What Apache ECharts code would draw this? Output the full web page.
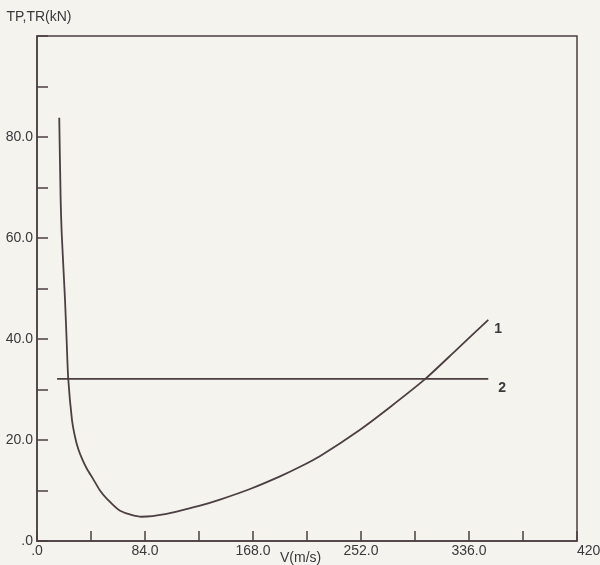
<!DOCTYPE html>
<html>
<head>
<meta charset="utf-8">
<script src="https://cdn.jsdelivr.net/npm/echarts@6/dist/echarts.min.js"></script>
<style>
html,body{margin:0;padding:0;background:#f5f3ed;}
#c{width:600px;height:565px;}
</style>
</head>
<body>
<div id="c"></div>
<script>
// Curve 1 (TR) – speed V (m/s) and force (kN)
var curve1V = [17.3, 18.4, 19.2, 21.8, 23.1, 24.3, 27.2, 29.6, 32.1, 35.5, 39, 43.6, 49, 54.2, 64.6, 81.4, 99.6, 126.8, 142.3, 165.7, 189, 204.6, 220, 251, 275, 302, 326, 351];
var curve1T = [83.8, 67.5, 61, 47.7, 39.4, 32.1, 24.0, 20.6, 18.2, 16.0, 14.2, 12.3, 10.0, 8.4, 6.0, 4.8, 5.3, 7.0, 8.2, 10.3, 12.8, 14.7, 16.8, 22.0, 26.6, 32.1, 37.8, 43.8];
// Curve 2 (TP) – constant available thrust
var curve2V = [15.6, 351];
var curve2T = [32.1, 32.1];
var seriesLabels = ['1', '2'];
var xTitle = 'V(m/s)';
var yTitle = 'TP,TR(kN)';

function pairs(xs, ys){ return xs.map(function(x,i){ return [x, ys[i]]; }); }

var ink = '#4b3f43';
var txt = '#38393b';
var font = "'Liberation Sans Narrow','Liberation Sans',Arial,sans-serif";

var chart = echarts.init(document.getElementById('c'), null, {renderer:'canvas'});
chart.setOption({
  backgroundColor: '#f5f3ed',
  animation: false,
  grid: {left: 37, right: 23, top: 36, bottom: 24, containLabel: false, outerBoundsMode: 'none',
         show: true, borderColor: ink, borderWidth: 1.5},
  graphic: [{
    type: 'text', left: 280, top: 551, z: 10,
    style: {text: xTitle, fill: txt, font: "14px " + font}
  }],
  xAxis: {
    type: 'value', min: 0, max: 420, interval: 42,
    axisLine: {show: true, lineStyle: {color: ink, width: 1.5}},
    axisTick: {show: true, inside: true, length: 10, lineStyle: {color: ink, width: 1.5}},
    splitLine: {show: false},
    axisLabel: {
      color: txt, fontFamily: font, fontSize: 14, margin: 3, alignMaxLabel: 'left', hideOverlap: false,
      formatter: function(v){ if (Math.round(v/42) % 2 !== 0) return ''; return v === 0 ? '.0' : v.toFixed(1); }
    }
  },
  yAxis: {
    type: 'value', min: 0, max: 100, interval: 10,
    name: yTitle, nameLocation: 'end', nameGap: 12,
    nameTextStyle: {color: txt, fontFamily: font, fontSize: 14, align: 'center', padding: [0, 0, 0, 4]},
    axisLine: {show: true, lineStyle: {color: ink, width: 1.5}},
    axisTick: {show: true, inside: true, length: 11, lineStyle: {color: ink, width: 1.5}},
    splitLine: {show: false},
    axisLabel: {
      color: txt, fontFamily: font, fontSize: 14, margin: 4,
      formatter: function(v){ if (v % 20 !== 0 || v >= 100) return ''; return v === 0 ? '.0' : v.toFixed(1); }
    }
  },
  series: [
    {
      type: 'line', data: pairs(curve1V, curve1T), showSymbol: false,
      smooth: 0.25,
      lineStyle: {color: ink, width: 1.8},
      endLabel: {show: true, formatter: seriesLabels[0], color: txt, fontFamily: font, fontSize: 14, fontWeight: 'bold', distance: 6, offset: [0, 9]}
    },
    {
      type: 'line', data: pairs(curve2V, curve2T), showSymbol: false,
      lineStyle: {color: ink, width: 1.8},
      endLabel: {show: true, formatter: seriesLabels[1], color: txt, fontFamily: font, fontSize: 14, fontWeight: 'bold', distance: 10, offset: [0, 9]}
    }
  ]
});
</script>
</body>
</html>
